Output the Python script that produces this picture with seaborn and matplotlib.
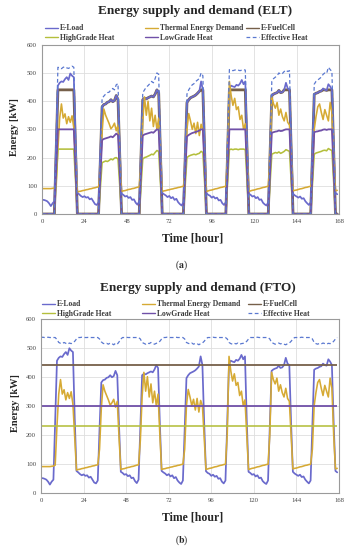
import matplotlib
matplotlib.use("Agg")
import numpy as np
import matplotlib.pyplot as plt
from matplotlib.lines import Line2D
import seaborn as sns

# Theme first, fonts after (set_theme resets font.family)
sns.set_theme(style="whitegrid")
plt.rcParams.update({
    "font.family": ["Liberation Serif", "DejaVu Serif"],
    "mathtext.fontset": "stix",
    "axes.edgecolor": "#9a9a9a",
    "grid.color": "#dedede",
    "grid.linewidth": 0.6,
})

# ---------------- data (hourly, one row per day) ----------------
hours = np.arange(168)

e_load = [
    50, 50, 48, 45, 38, 28, 38, 45, 250, 455, 465, 470, 468, 478, 485, 475, 498, 490, 485, 260, 75, 70, 64, 60,
    63, 58, 60, 52, 55, 45, 35, 32, 42, 220, 380, 388, 390, 396, 398, 405, 398, 402, 420, 405, 230, 72, 68, 62,
    64, 57, 60, 50, 52, 40, 33, 45, 230, 405, 410, 408, 412, 415, 418, 415, 425, 440, 430, 240, 75, 70, 66, 60,
    64, 56, 60, 50, 54, 42, 35, 30, 42, 220, 395, 405, 412, 415, 418, 422, 428, 435, 470, 440, 240, 74, 68, 65,
    58, 62, 55, 58, 48, 50, 38, 32, 42, 250, 445, 455, 452, 450, 458, 455, 462, 475, 460, 470, 250, 72, 68, 62,
    64, 56, 60, 50, 52, 40, 34, 30, 42, 230, 420, 425, 428, 430, 438, 430, 432, 440, 465, 445, 440, 240, 72, 66,
    62, 58, 62, 54, 56, 45, 38, 32, 42, 230, 424, 428, 430, 434, 436, 445, 440, 438, 460, 452, 440, 240, 75, 70,
]

thermal_demand = [
    90, 90, 90, 90, 90, 90, 91, 92, 95, 230, 340, 390, 340, 355, 320, 345, 325, 348, 305, 190, 78, 80, 81, 83,
    84, 86, 87, 89, 90, 92, 93, 95, 96, 150, 290, 372, 350, 335, 320, 302, 310, 322, 295, 315, 190, 80, 82, 83,
    85, 87, 88, 90, 91, 93, 95, 96, 180, 330, 415, 350, 400, 330, 375, 310, 350, 300, 340, 200, 80, 82, 83, 85,
    86, 88, 89, 91, 92, 94, 95, 97, 98, 150, 300, 356, 330, 300, 322, 285, 325, 278, 318, 300, 190, 80, 82, 84,
    85, 87, 89, 90, 92, 94, 95, 97, 98, 200, 470, 420, 385, 410, 370, 380, 335, 350, 300, 320, 200, 80, 82, 84,
    85, 87, 89, 90, 92, 94, 95, 97, 98, 200, 415, 390, 375, 395, 350, 372, 345, 330, 360, 325, 315, 200, 82, 84,
    85, 87, 89, 90, 92, 94, 95, 97, 98, 150, 300, 345, 380, 390, 360, 335, 370, 350, 330, 395, 360, 200, 82, 84,
]

# ELT case
elt_fuelcell = [
    0, 0, 0, 0, 0, 0, 0, 0, 220, 440, 440, 440, 440, 440, 440, 440, 440, 440, 440, 220, 0, 0, 0, 0,
    0, 0, 0, 0, 0, 0, 0, 0, 0, 190, 380, 388, 390, 396, 398, 405, 398, 402, 420, 405, 200, 0, 0, 0,
    0, 0, 0, 0, 0, 0, 0, 0, 200, 405, 410, 408, 412, 415, 418, 415, 425, 440, 430, 215, 0, 0, 0, 0,
    0, 0, 0, 0, 0, 0, 0, 0, 0, 200, 395, 405, 412, 415, 418, 422, 428, 435, 440, 440, 220, 0, 0, 0,
    0, 0, 0, 0, 0, 0, 0, 0, 0, 220, 440, 440, 440, 440, 440, 440, 440, 440, 440, 440, 220, 0, 0, 0,
    0, 0, 0, 0, 0, 0, 0, 0, 0, 210, 420, 425, 428, 430, 438, 430, 432, 440, 440, 440, 440, 220, 0, 0,
    0, 0, 0, 0, 0, 0, 0, 0, 0, 212, 424, 428, 430, 434, 436, 440, 440, 438, 440, 440, 440, 220, 0, 0,
]

elt_high = [
    0, 0, 0, 0, 0, 0, 0, 0, 115, 230, 230, 230, 230, 230, 230, 230, 230, 230, 230, 115, 0, 0, 0, 0,
    0, 0, 0, 0, 0, 0, 0, 0, 0, 92, 182, 185, 188, 186, 190, 195, 192, 198, 200, 195, 98, 0, 0, 0,
    0, 0, 0, 0, 0, 0, 0, 0, 98, 195, 200, 202, 205, 208, 212, 210, 218, 225, 222, 111, 0, 0, 0, 0,
    0, 0, 0, 0, 0, 0, 0, 0, 0, 100, 200, 205, 208, 210, 212, 210, 213, 215, 222, 218, 109, 0, 0, 0,
    0, 0, 0, 0, 0, 0, 0, 0, 0, 114, 228, 230, 228, 230, 230, 228, 230, 230, 230, 228, 114, 0, 0, 0,
    0, 0, 0, 0, 0, 0, 0, 0, 0, 106, 212, 215, 218, 216, 220, 215, 218, 222, 228, 225, 222, 111, 0, 0,
    0, 0, 0, 0, 0, 0, 0, 0, 0, 106, 212, 216, 218, 220, 222, 225, 226, 224, 232, 228, 225, 112, 0, 0,
]

elt_low = [
    0, 0, 0, 0, 0, 0, 0, 0, 150, 300, 300, 300, 300, 300, 300, 300, 300, 300, 300, 150, 0, 0, 0, 0,
    0, 0, 0, 0, 0, 0, 0, 0, 0, 131, 262, 266, 268, 270, 272, 275, 272, 278, 285, 280, 140, 0, 0, 0,
    0, 0, 0, 0, 0, 0, 0, 0, 139, 278, 282, 284, 286, 288, 290, 288, 294, 300, 298, 149, 0, 0, 0, 0,
    0, 0, 0, 0, 0, 0, 0, 0, 0, 137, 275, 280, 284, 287, 289, 291, 293, 296, 300, 300, 150, 0, 0, 0,
    0, 0, 0, 0, 0, 0, 0, 0, 0, 150, 300, 300, 300, 300, 300, 300, 300, 300, 300, 300, 150, 0, 0, 0,
    0, 0, 0, 0, 0, 0, 0, 0, 0, 144, 288, 290, 292, 293, 296, 294, 295, 298, 300, 300, 300, 150, 0, 0,
    0, 0, 0, 0, 0, 0, 0, 0, 0, 145, 290, 292, 293, 295, 296, 299, 300, 298, 300, 300, 300, 150, 0, 0,
]

elt_effective = [
    0, 0, 0, 0, 0, 0, 0, 0, 260, 520, 518, 515, 520, 522, 518, 516, 520, 524, 520, 260, 0, 0, 0, 0,
    0, 0, 0, 0, 0, 0, 0, 0, 0, 205, 410, 418, 425, 430, 432, 440, 445, 440, 458, 462, 231, 0, 0, 0,
    0, 0, 0, 0, 0, 0, 0, 0, 215, 430, 440, 450, 455, 462, 470, 465, 480, 500, 495, 248, 0, 0, 0, 0,
    0, 0, 0, 0, 0, 0, 0, 0, 0, 212, 425, 440, 450, 458, 462, 470, 475, 480, 500, 490, 245, 0, 0, 0,
    0, 0, 0, 0, 0, 0, 0, 0, 0, 256, 512, 510, 508, 510, 512, 510, 508, 510, 512, 510, 255, 0, 0, 0,
    0, 0, 0, 0, 0, 0, 0, 0, 0, 235, 470, 480, 485, 490, 500, 495, 498, 505, 510, 505, 508, 254, 0, 0,
    0, 0, 0, 0, 0, 0, 0, 0, 0, 230, 460, 470, 475, 480, 485, 495, 500, 498, 520, 512, 505, 252, 0, 0,
]

# FTO case: fuel cell runs at rated output all week
fto_fuelcell = 440
fto_high = 230
fto_low = 300
fto_effective = [
    535, 536, 535, 535, 536, 535, 535, 535, 535, 528, 518, 515, 514, 518, 515, 512, 516, 514, 517, 522, 530, 535, 535, 536,
    535, 535, 535, 536, 535, 535, 535, 535, 535, 530, 520, 515, 513, 515, 512, 516, 514, 510, 515, 512, 520, 530, 535, 535,
    536, 535, 535, 535, 535, 535, 535, 535, 530, 518, 515, 512, 516, 514, 518, 514, 512, 515, 517, 522, 530, 535, 535, 536,
    535, 535, 535, 535, 536, 535, 535, 535, 535, 530, 518, 515, 513, 516, 512, 515, 514, 510, 514, 516, 522, 530, 535, 535,
    535, 536, 535, 535, 535, 535, 535, 535, 535, 530, 518, 514, 512, 515, 513, 516, 512, 514, 515, 517, 522, 530, 535, 535,
    535, 535, 536, 535, 535, 535, 535, 535, 535, 530, 518, 515, 512, 514, 516, 513, 515, 512, 510, 514, 516, 522, 530, 535,
    535, 535, 535, 536, 535, 535, 535, 535, 535, 530, 518, 514, 512, 515, 513, 516, 514, 512, 515, 514, 516, 522, 530, 535,
]

# colours
c_load = "#6a6acc"
c_thermal = "#d6aa34"
c_fuel = "#76604a"
c_high = "#b4bf3c"
c_low = "#7050a8"
c_eff = "#5a78d0"

fig = plt.figure(figsize=(3.55, 5.5), dpi=100)
ax1 = fig.add_axes([0.1183, 0.6109, 0.8366, 0.3078])
ax2 = fig.add_axes([0.1155, 0.1042, 0.8394, 0.3164])


def style_axes(ax):
    ax.set_facecolor("white")
    ax.set_xlim(0, 168)
    ax.set_ylim(0, 600)
    ax.set_xticks(range(0, 169, 24))
    ax.set_yticks(range(0, 601, 100))
    ax.grid(True, color="#dedede", linewidth=0.6)
    for sp in ax.spines.values():
        sp.set_visible(True)
        sp.set_color("#9a9a9a")
        sp.set_linewidth(0.8)
    ax.tick_params(labelsize=4.8, length=0, pad=3.5, colors="#444444")


# ---- (a) ELT ----
sns.lineplot(x=hours, y=elt_fuelcell, ax=ax1, color=c_fuel, lw=2.0)
sns.lineplot(x=hours, y=e_load, ax=ax1, color=c_load, lw=1.25)
sns.lineplot(x=hours, y=thermal_demand, ax=ax1, color=c_thermal, lw=1.15)
sns.lineplot(x=hours, y=elt_high, ax=ax1, color=c_high, lw=1.15)
sns.lineplot(x=hours, y=elt_low, ax=ax1, color=c_low, lw=1.3)
sns.lineplot(x=hours, y=elt_effective, ax=ax1, color=c_eff, lw=0.9, linestyle=(0, (3, 2)))
style_axes(ax1)

# ---- (b) FTO ----
sns.lineplot(x=hours, y=e_load, ax=ax2, color=c_load, lw=1.25)
sns.lineplot(x=hours, y=thermal_demand, ax=ax2, color=c_thermal, lw=1.15)
ax2.hlines(fto_fuelcell, hours[0], hours[-1], color=c_fuel, lw=1.3)
ax2.hlines(fto_high, hours[0], hours[-1], color=c_high, lw=1.15)
ax2.hlines(fto_low, hours[0], hours[-1], color=c_low, lw=1.3)
sns.lineplot(x=hours, y=fto_effective, ax=ax2, color=c_eff, lw=0.9, linestyle=(0, (3, 2)))
style_axes(ax2)

for ax, xlab, ylab in [(ax1, (0.507, -0.142), (-0.094, 0.514)), (ax2, (0.508, -0.145), (-0.087, 0.516))]:
    ax.set_xlabel("Time [hour]", fontsize=8.5, fontweight="bold")
    ax.set_ylabel("Energy [kW]", fontsize=7.5, fontweight="bold")
    ax.xaxis.set_label_coords(*xlab)
    ax.yaxis.set_label_coords(*ylab)
    ax.xaxis.label.set_va("center")
    ax.yaxis.label.set_va("center")

fig.text(0.549, 0.980, "Energy supply and demand (ELT)", ha="center", va="center", fontsize=9.5, fontweight="bold")
fig.text(0.556, 0.476, "Energy supply and demand (FTO)", ha="center", va="center", fontsize=9.5, fontweight="bold")
fig.text(0.511, 0.518, r"($\mathbf{a}$)", ha="center", va="center", fontsize=7)
fig.text(0.511, 0.017, r"($\mathbf{b}$)", ha="center", va="center", fontsize=7)

# legends: three fixed columns, two rows each
h = {
    "E-Load": Line2D([], [], color=c_load, lw=1.0),
    "Thermal Energy Demand": Line2D([], [], color=c_thermal, lw=1.0),
    "E-FuelCell": Line2D([], [], color=c_fuel, lw=1.0),
    "HighGrade Heat": Line2D([], [], color=c_high, lw=1.0),
    "LowGrade Heat": Line2D([], [], color=c_low, lw=1.0),
    "Effective Heat": Line2D([], [], color=c_eff, lw=0.9, linestyle=(0, (3, 2))),
}
columns = [["E-Load", "HighGrade Heat"], ["Thermal Energy Demand", "LowGrade Heat"], ["E-FuelCell", "Effective Heat"]]


def add_legends(xs, yc):
    for x, col in zip(xs, columns):
        leg = fig.legend(handles=[h[k] for k in col], labels=col, loc="center left",
                         bbox_to_anchor=(x, yc), frameon=False, borderpad=0, borderaxespad=0,
                         handlelength=1.75, handletextpad=0.25, labelspacing=0.2,
                         prop={"weight": "bold", "size": 5.5})
        for t in leg.get_texts():
            t.set_color("#3a3a3a")


add_legends([0.1268, 0.4085, 0.692], 0.940)
add_legends([0.1175, 0.399, 0.6986], 0.4378)

fig.savefig("out.png", dpi=100)
